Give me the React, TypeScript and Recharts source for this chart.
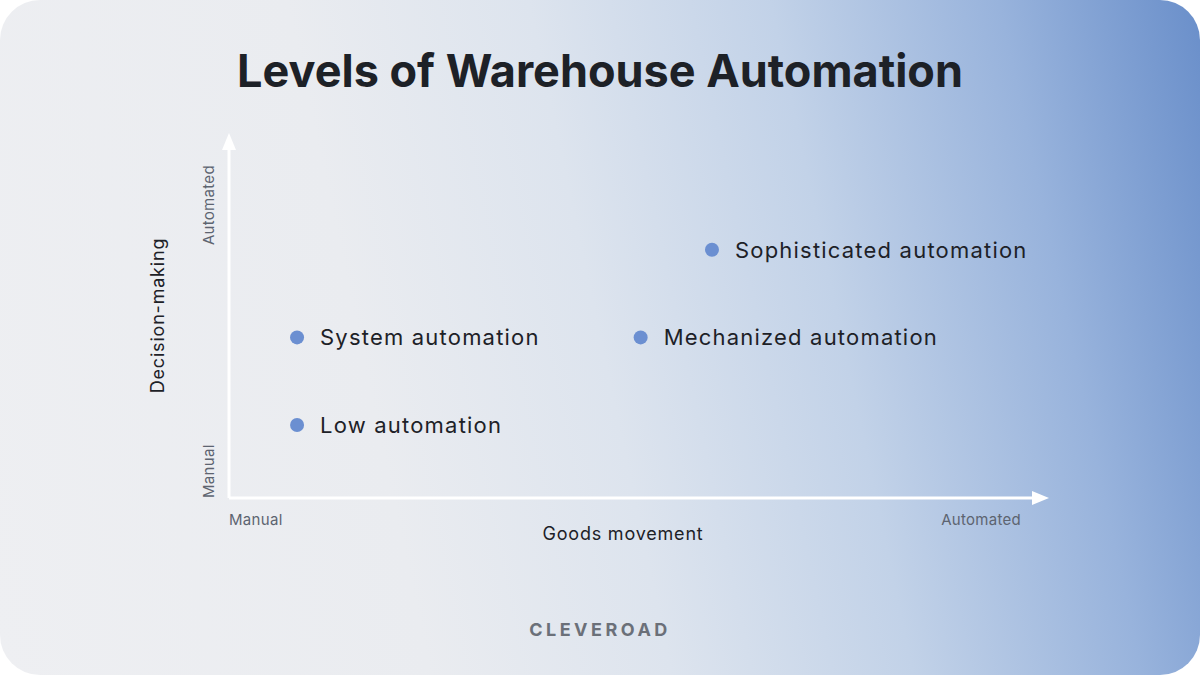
import React from "react";
import {
  ScatterChart,
  Scatter,
  XAxis,
  YAxis,
  ReferenceLine,
  LabelList,
} from "recharts";

const levelNames = [
  "Low automation",
  "System automation",
  "Mechanized automation",
  "Sophisticated automation",
];
// goods movement (0 = manual, 100 = automated)
const goodsMovement = [8.3, 8.3, 50.2, 58.9];
// decision-making (0 = manual, 100 = automated)
const decisionMaking = [20, 44, 44, 68];

const xTickValues = [0, 96.6];
const xTickLabels = ["Manual", "Automated"];
const yTickValues = [0, 91.2];
const yTickLabels = ["Manual", "Automated"];

const FONT = "Inter, 'Open Sans', sans-serif";
const DOT = "#6b8fd1";

const points = levelNames.map((name, i) => ({
  name,
  x: goodsMovement[i],
  y: decisionMaking[i],
}));

// eslint-disable-next-line @typescript-eslint/no-explicit-any
const XTick = ({ x, y, payload, index }: any) => (
  <text
    x={x}
    y={y + 19}
    textAnchor={index === 0 ? "start" : "end"}
    fontSize={15}
    letterSpacing={0.3}
    fill="#5d6470"
    fontFamily={FONT}
  >
    {xTickLabels[xTickValues.indexOf(payload.value)]}
  </text>
);

// eslint-disable-next-line @typescript-eslint/no-explicit-any
const YTick = ({ x, y, payload, index }: any) => {
  const tx = x - 7;
  return (
    <text
      x={tx}
      y={y}
      transform={`rotate(-90 ${tx} ${y})`}
      textAnchor={index === 0 ? "start" : "end"}
      fontSize={15}
      letterSpacing={0.3}
      fill="#5d6470"
      fontFamily={FONT}
    >
      {yTickLabels[yTickValues.indexOf(payload.value)]}
    </text>
  );
};

// eslint-disable-next-line @typescript-eslint/no-explicit-any
const ArrowLine = ({ x1, y1, x2, y2 }: any) => {
  const dx = x2 - x1;
  const dy = y2 - y1;
  const len = Math.sqrt(dx * dx + dy * dy) || 1;
  const ux = dx / len;
  const uy = dy / len;
  const head = 17;
  const half = 7;
  const bx = x2 - ux * head;
  const by = y2 - uy * head;
  return (
    <g>
      <line x1={x1} y1={y1} x2={bx} y2={by} stroke="#ffffff" strokeWidth={3} />
      <polygon
        points={`${x2},${y2} ${bx - uy * half},${by + ux * half} ${bx + uy * half},${by - ux * half}`}
        fill="#ffffff"
      />
    </g>
  );
};

// eslint-disable-next-line @typescript-eslint/no-explicit-any
const Dot = ({ cx, cy }: any) => <circle cx={cx} cy={cy} r={7} fill={DOT} />;

// eslint-disable-next-line @typescript-eslint/no-explicit-any
const PointLabel = ({ x, y, width, height, value }: any) => (
  <text
    x={x + width / 2 + 23}
    y={y + height / 2}
    dominantBaseline="central"
    fontSize={22}
    letterSpacing={1.2}
    fill="#1d2127"
    fontFamily={FONT}
  >
    {value}
  </text>
);

export default function App() {
  return (
    <div
      style={{
        position: "absolute",
        left: 0,
        top: 0,
        width: 1200,
        height: 675,
        background: "#ffffff",
      }}
    >
      <div
        style={{
          position: "absolute",
          inset: 0,
          borderRadius: 40,
          overflow: "hidden",
          background:
            "linear-gradient(78deg, #eeeff2 0%, #eaecf0 32%, #dde4ee 50%, #c2d2e8 68%, #98b3dc 85%, #6a8fca 100%)",
        }}
      >
        <div
          style={{
            position: "absolute",
            top: 43,
            width: "100%",
            textAlign: "center",
            fontFamily: FONT,
            fontWeight: 700,
            fontSize: 45,
            letterSpacing: 0,
            color: "#1d2127",
          }}
        >
          Levels of Warehouse Automation
        </div>
        <div
          style={{
            position: "absolute",
            top: 619,
            width: "100%",
            textAlign: "center",
            fontFamily: FONT,
            fontWeight: 700,
            fontSize: 18,
            letterSpacing: 3.5,
            color: "#6b7079",
          }}
        >
          CLEVEROAD
        </div>
        <div style={{ position: "absolute", left: 0, top: 0 }}>
          <ScatterChart
            width={1200}
            height={675}
            margin={{ top: 133, right: 151, bottom: 137, left: 149 }}
          >
            <XAxis
              type="number"
              dataKey="x"
              domain={[0, 100]}
              ticks={xTickValues}
              tick={<XTick />}
              axisLine={false}
              tickLine={false}
              height={40}
              interval={0}
              label={{
                value: "Goods movement",
                position: "insideBottom",
                offset: -2,
                dx: -16,
                fontSize: 18,
                letterSpacing: 0.8,
                fill: "#1d2127",
                fontFamily: FONT,
              }}
            />
            <YAxis
              type="number"
              dataKey="y"
              domain={[0, 100]}
              ticks={yTickValues}
              tick={<YTick />}
              axisLine={false}
              tickLine={false}
              width={80}
              interval={0}
              label={{
                value: "Decision-making",
                angle: -90,
                position: "insideLeft",
                offset: 9,
                fontSize: 18,
                letterSpacing: 0.8,
                fill: "#1d2127",
                fontFamily: FONT,
                style: { textAnchor: "middle" },
              }}
            />
            <ReferenceLine
              segment={[
                { x: 0, y: 0 },
                { x: 100, y: 0 },
              ]}
              shape={<ArrowLine />}
              ifOverflow="visible"
            />
            <ReferenceLine
              segment={[
                { x: 0, y: 0 },
                { x: 0, y: 100 },
              ]}
              shape={<ArrowLine />}
              ifOverflow="visible"
            />
            <Scatter data={points} fill={DOT} isAnimationActive={false} shape={<Dot />}>
              <LabelList dataKey="name" content={<PointLabel />} />
            </Scatter>
          </ScatterChart>
        </div>
      </div>
    </div>
  );
}
